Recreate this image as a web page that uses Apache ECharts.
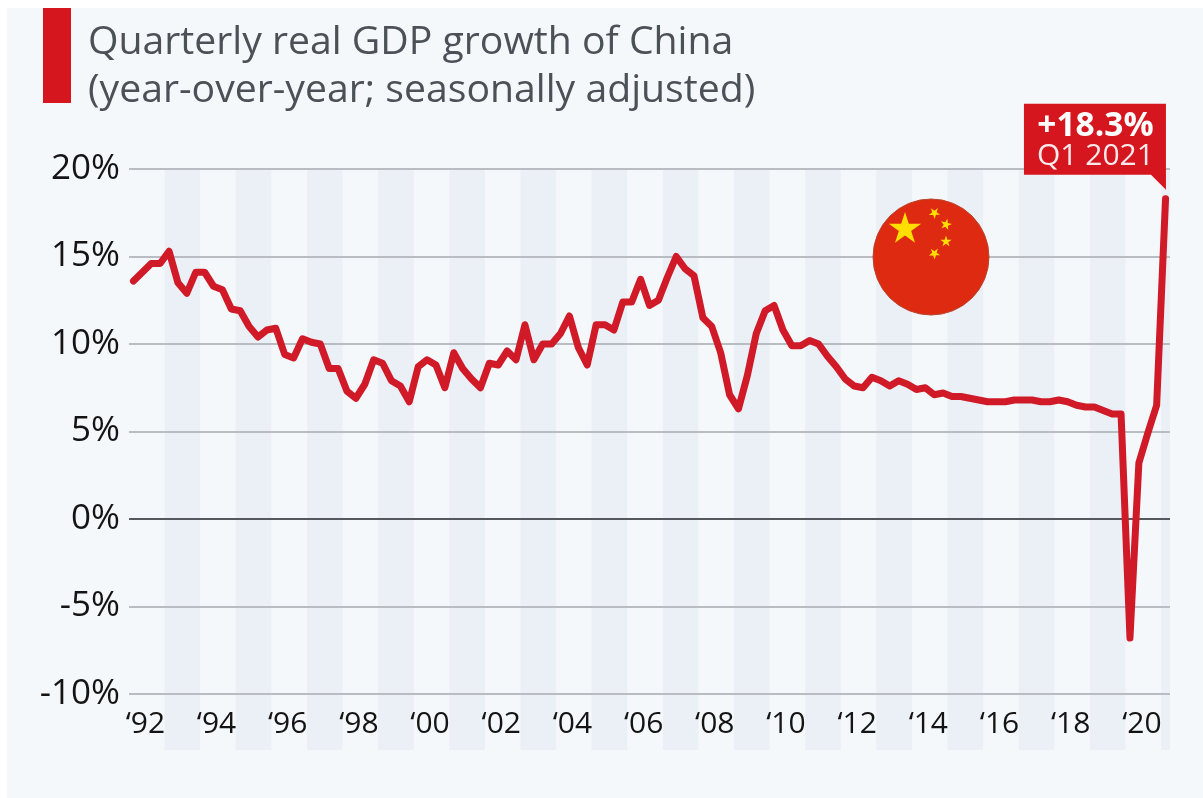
<!DOCTYPE html>
<html>
<head>
<meta charset="utf-8">
<title>Quarterly real GDP growth of China</title>
<script src="https://cdn.jsdelivr.net/npm/echarts@6/dist/echarts.min.js"></script>
<style>
  html, body { margin: 0; padding: 0; background: #ffffff; }
  #panel { position: absolute; left: 7px; top: 8px; width: 1196px; height: 790px; background: #f4f8fb; }
  #chart { position: absolute; left: 0; top: 0; width: 1203px; height: 798px; }
</style>
</head>
<body>
<div id="panel"></div>
<div id="chart"></div>
<script>
// Year-over-year real GDP growth, one value per quarter, Q1 1992 to Q1 2021
const gdp1990s = [
  13.6, 14.1, 14.6, 14.6,  15.3, 13.5, 12.9, 14.1,  14.1, 13.3, 13.1, 12.0,
  11.9, 11.0, 10.4, 10.8,  10.9, 9.4, 9.2, 10.3,  10.1, 10.0, 8.6, 8.6,
  7.3, 6.9, 7.7, 9.1,  8.9, 7.9, 7.6, 6.7
];
const gdp2000s = [
  8.7, 9.1, 8.8, 7.5,  9.5, 8.6, 8.0, 7.5,  8.9, 8.8, 9.6, 9.1,
  11.1, 9.1, 10.0, 10.0,  10.6, 11.6, 9.8, 8.8,  11.1, 11.1, 10.8, 12.4,
  12.4, 13.7, 12.2, 12.5,  13.8, 15.0, 14.3, 13.9,
  11.5, 11.0, 9.5, 7.1,  6.3, 8.2, 10.6, 11.9
];
const gdp2010s = [
  12.2, 10.8, 9.9, 9.9,  10.2, 10.0, 9.3, 8.7,  8.0, 7.6, 7.5, 8.1,
  7.9, 7.6, 7.9, 7.7,  7.4, 7.5, 7.1, 7.2,  7.0, 7.0, 6.9, 6.8,
  6.7, 6.7, 6.7, 6.8,  6.8, 6.8, 6.7, 6.7,  6.8, 6.7, 6.5, 6.4,
  6.4, 6.2, 6.0, 6.0
];
const gdp2020s = [-6.8, 3.2, 4.9, 6.5, 18.3];

const growth = [...gdp1990s, ...gdp2000s, ...gdp2010s, ...gdp2020s];
const years = Array.from({ length: 30 }, (_, k) => 1992 + k);
const quarters = years.flatMap(y => ['Q1', 'Q2', 'Q3', 'Q4'].map(q => q + ' ' + y)).slice(0, growth.length);
const titleLines = ['Quarterly real GDP growth of China', '(year-over-year; seasonally adjusted)'];
const latestPeriod = quarters[quarters.length - 1];
const latestValue = growth[growth.length - 1];

const FONT = '"Open Sans", "Noto Sans", sans-serif';
const RED = '#d6161f';

const GRID_LEFT = 129, GRID_RIGHT = 1170, GRID_TOP = 169, GRID_BOTTOM = 694, BAND_BOTTOM = 750;

// Five-pointed star polygon, rotated by `rot` radians
function star(cx, cy, r, rot) {
  const pts = [];
  for (let k = 0; k < 10; k++) {
    const rad = k % 2 ? r * 0.382 : r;
    const a = -Math.PI / 2 + rot + k * Math.PI / 5;
    pts.push([cx + rad * Math.cos(a), cy + rad * Math.sin(a)]);
  }
  return { type: 'polygon', shape: { points: pts }, style: { fill: '#ffde00' }, silent: true, z: 20 };
}

const chart = echarts.init(document.getElementById('chart'), null, { renderer: 'canvas' });

chart.setOption({
  animation: false,
  backgroundColor: 'transparent',
  textStyle: { fontFamily: FONT },
  grid: [
    { left: GRID_LEFT, top: GRID_TOP, width: GRID_RIGHT - GRID_LEFT, height: GRID_BOTTOM - GRID_TOP, containLabel: false },
    { left: GRID_LEFT, top: GRID_TOP, width: GRID_RIGHT - GRID_LEFT, height: BAND_BOTTOM - GRID_TOP, containLabel: false }
  ],
  xAxis: [
    {
      type: 'category', gridIndex: 0, data: quarters, boundaryGap: true, z: 3,
      axisLine: { show: false }, axisTick: { show: false }, splitLine: { show: false },
      axisLabel: {
        // Every second year, labelled near the middle of that year's four quarters
        interval: i => i % 8 === 1,
        formatter: v => '\u2018' + v.slice(-2),
        color: '#141414', fontSize: 30, fontFamily: FONT, margin: 15,
        padding: [0, 0, 0, 6], hideOverlap: false
      }
    },
    {
      // Alternating year bands, running below the plot behind the year labels
      type: 'category', gridIndex: 1, data: quarters, boundaryGap: true, z: 0,
      axisLine: { show: false }, axisTick: { show: false }, axisLabel: { show: false },
      splitLine: { show: false },
      splitArea: { show: true, interval: i => i % 4 === 0, areaStyle: { color: ['rgba(0,0,0,0)', '#ebf0f7'] } }
    }
  ],
  yAxis: [
    {
      type: 'value', gridIndex: 0, min: -10, max: 20, interval: 5, z: 3,
      axisLine: { show: false }, axisTick: { show: false },
      axisLabel: { formatter: '{value}%', color: '#141414', fontSize: 35, fontFamily: FONT, margin: 9 },
      splitLine: { show: true, lineStyle: { width: 2, color: '#b9bdc2' } }
    },
    { type: 'value', gridIndex: 1, min: 0, max: 1, show: false }
  ],
  series: [
    {
      type: 'line', xAxisIndex: 0, yAxisIndex: 0, data: growth, symbol: 'none', z: 10,
      clip: false,
      lineStyle: { color: '#d01a28', width: 7, cap: 'round', join: 'round' },
      markLine: {
        silent: true, symbol: 'none', animation: false, z: 5, label: { show: false },
        lineStyle: { color: '#55585c', width: 2, type: 'solid' },
        data: [{ yAxis: 0 }]
      }
    }
  ]
});

// Callout and flag depend on the scale, so they are placed after the axes exist
const [tipX, tipY] = chart.convertToPixel({ xAxisIndex: 0, yAxisIndex: 0 }, [growth.length - 1, latestValue]);
const boxRight = tipX + 0.4, boxLeft = boxRight - 142, boxTop = tipY - 95, boxBottom = tipY - 24;
const flagX = 931, flagY = 257, flagR = 58;

chart.setOption({
  graphic: [
    { type: 'rect', shape: { x: 43, y: 8, width: 28, height: 95 }, style: { fill: RED }, silent: true },
    { type: 'text', x: 88, y: 43, style: { text: titleLines[0], font: '39.2px ' + FONT, fill: '#4c5157', verticalAlign: 'middle' }, silent: true },
    { type: 'text', x: 88, y: 91, style: { text: titleLines[1], font: '39.2px ' + FONT, fill: '#4c5157', verticalAlign: 'middle' }, silent: true },

    { type: 'circle', shape: { cx: flagX, cy: flagY, r: flagR }, style: { fill: '#dd2a10', stroke: '#b9472f', lineWidth: 1 }, silent: true, z: 20 },
    star(flagX - 26, flagY - 28, 17, 0),
    star(flagX + 3.5, flagY - 44, 6, 0.6),
    star(flagX + 15, flagY - 32.5, 6, 0.25),
    star(flagX + 15, flagY - 15.5, 6, 0),
    star(flagX + 3.5, flagY - 3.5, 6, 0.6),

    {
      type: 'polygon',
      shape: { points: [[boxLeft, boxTop], [boxRight, boxTop], [boxRight, tipY - 9], [boxRight - 15, boxBottom], [boxLeft, boxBottom]] },
      style: { fill: RED }, silent: true, z: 20
    },
    { type: 'text', x: (boxLeft + boxRight) / 2 + 0.5, y: boxTop + 23, z: 21, silent: true,
      style: { text: '+' + latestValue + '%', font: 'bold 33.5px ' + FONT, fill: '#ffffff', align: 'center', verticalAlign: 'middle' } },
    { type: 'text', x: (boxLeft + boxRight) / 2 + 0.5, y: boxTop + 53, z: 21, silent: true,
      style: { text: latestPeriod, font: '30px ' + FONT, fill: '#fbeaec', align: 'center', verticalAlign: 'middle' } }
  ]
});
</script>
</body>
</html>
